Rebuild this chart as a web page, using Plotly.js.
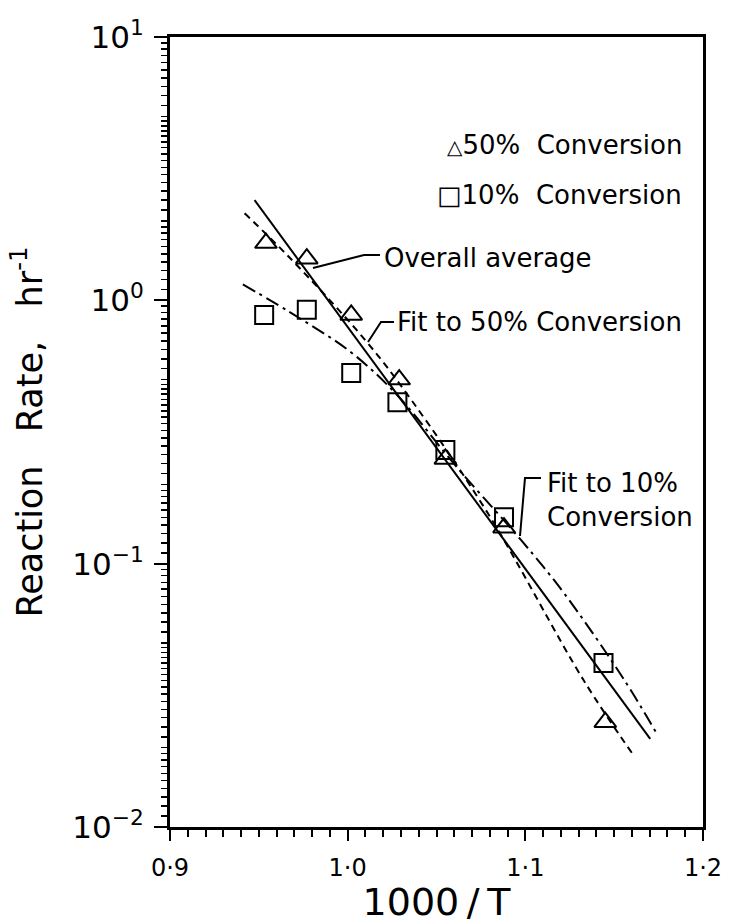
<!DOCTYPE html>
<html>
<head>
<meta charset="utf-8">
<script src="https://cdn.plot.ly/plotly-3.0.1.min.js"></script>
<style>
html,body{margin:0;padding:0;background:#fff;}
#chart{width:732px;height:924px;}
</style>
</head>
<body>
<div id="chart"></div>
<script>
// ---- data ----
const x50 = [0.954, 0.977, 1.002, 1.029, 1.055, 1.088, 1.145];
const y50 = [1.65, 1.44, 0.88, 0.50, 0.25, 0.137, 0.025];
const x10 = [0.953, 0.977, 1.002, 1.028, 1.055, 1.088, 1.144];
const y10 = [0.88, 0.92, 0.53, 0.41, 0.27, 0.15, 0.042];

const xAvg = [0.9476, 1.1703];
const yAvg = [2.40, 0.0216];

const xFit50 = [0.942, 0.967, 1.010, 1.036, 1.079, 1.133, 1.160];
const yFit50 = [2.14, 1.46, 0.705, 0.417, 0.155, 0.0359, 0.0191];

const xFit10 = [0.941, 0.973, 1.002, 1.027, 1.062, 1.098, 1.122, 1.156, 1.174];
const yFit10 = [1.15, 0.855, 0.634, 0.443, 0.230, 0.122, 0.0769, 0.0359, 0.0226];

const xTickVals = [0.9, 1.0, 1.1, 1.2];
const xTickText = ['0·9', '1·0', '1·1', '1·2'];
const yTickVals = [0.01, 0.1, 1, 10];
const yTickText = ['10<sup>−2</sup>', '10<sup>−1</sup>', '10<sup>0</sup>', '10<sup>1</sup>'];

// ---- minor tick set (log paper) ----
const yMinorVals = [];
[0.01, 0.1, 1].forEach(d => {
  for (let m = 1.1; m < 2 - 1e-9; m += 0.1) yMinorVals.push(+(m * d).toPrecision(6));
  for (let m = 2; m < 5 - 1e-9; m += 0.2) yMinorVals.push(+(m * d).toPrecision(6));
  for (let m = 5; m < 10 - 1e-9; m += 0.5) yMinorVals.push(+(m * d).toPrecision(6));
});

const FONT = 'DejaVu Sans, sans-serif';
const blk = '#000';

const traces = [
  {x: xAvg, y: yAvg, mode: 'lines', line: {color: blk, width: 2}, name: 'Overall average', showlegend: false},
  {x: xFit50, y: yFit50, mode: 'lines', line: {color: blk, width: 2, dash: '7px,5px', shape: 'spline'}, name: 'Fit to 50% Conversion', showlegend: false},
  {x: xFit10, y: yFit10, mode: 'lines', line: {color: blk, width: 2, dash: '14px,5px,3px,5px', shape: 'spline'}, name: 'Fit to 10% Conversion', showlegend: false},
  {x: x50, y: y50, mode: 'markers', marker: {symbol: 'triangle-up-open', size: 19, color: blk, line: {width: 2, color: blk}}, name: '50% Conversion', showlegend: false},
  {x: x10, y: y10, mode: 'markers', marker: {symbol: 'square-open', size: 18, color: blk, line: {width: 2, color: blk}}, name: '10% Conversion', showlegend: false}
];

const L = 170, R = 29, T = 37, B = 97;
const PW = 732 - L - R, PH = 924 - T - B;
const px = v => (v - L) / PW;          // pixel -> paper helpers for labels
const py = v => (924 - B - v) / PH;

const annFont = {family: FONT, size: 26, color: blk};
const annotations = [
  {xref: 'paper', yref: 'paper', x: px(684), y: py(145), xanchor: 'right', yanchor: 'middle', showarrow: false, text: '<span style="font-size:20px">△</span>50%  Conversion', font: annFont},
  {xref: 'paper', yref: 'paper', x: px(684), y: py(195), xanchor: 'right', yanchor: 'middle', showarrow: false, text: '□10%  Conversion', font: annFont},
  {xref: 'paper', yref: 'paper', x: px(382), y: py(258), xanchor: 'left', yanchor: 'middle', showarrow: false, text: 'Overall average', font: annFont},
  {xref: 'paper', yref: 'paper', x: px(684), y: py(322), xanchor: 'right', yanchor: 'middle', showarrow: false, text: 'Fit to 50% Conversion', font: annFont},
  {xref: 'paper', yref: 'paper', x: px(545), y: py(500), xanchor: 'left', yanchor: 'middle', showarrow: false, align: 'left', text: 'Fit to 10%<br>Conversion', font: annFont}
];

const lineStyle = {color: blk, width: 2};
const shapes = [
  {type: 'path', xref: 'paper', yref: 'paper', path: `M ${px(313)} ${py(268)} L ${px(364)} ${py(255)} L ${px(380)} ${py(255)}`, line: lineStyle},
  {type: 'path', xref: 'paper', yref: 'paper', path: `M ${px(394)} ${py(322)} L ${px(381)} ${py(322)} L ${px(368)} ${py(342)}`, line: lineStyle},
  {type: 'path', xref: 'paper', yref: 'paper', path: `M ${px(541)} ${py(478)} L ${px(525)} ${py(478)} L ${px(520)} ${py(536)}`, line: lineStyle}
];

const layout = {
  width: 732, height: 924,
  margin: {l: L, r: R, t: T, b: B},
  paper_bgcolor: '#fff', plot_bgcolor: '#fff',
  font: {family: FONT, color: blk},
  showlegend: false,
  xaxis: {
    range: [0.9, 1.2], tickmode: 'array', tickvals: xTickVals, ticktext: xTickText,
    ticks: 'outside', ticklen: 11, tickwidth: 2, tickcolor: blk,
    minor: {dtick: 0.01, ticks: 'outside', ticklen: 7, tickwidth: 2, tickcolor: blk, showgrid: false},
    showline: true, linewidth: 3, linecolor: blk, mirror: true,
    showgrid: false, zeroline: false,
    tickfont: {family: FONT, size: 24, color: blk}, ticklabelstandoff: 6,
    title: {text: '1000\u2009/\u2009T', font: {family: FONT, size: 38, color: blk}, standoff: 8}
  },
  yaxis: {
    type: 'log', range: [-2, 1], tickmode: 'array', tickvals: yTickVals, ticktext: yTickText,
    ticks: 'outside', ticklen: 13, tickwidth: 2, tickcolor: blk,
    minor: {tickmode: 'array', tickvals: yMinorVals, ticks: 'outside', ticklen: 6, tickwidth: 1.5, tickcolor: blk, showgrid: false},
    showline: true, linewidth: 3, linecolor: blk, mirror: true,
    showgrid: false, zeroline: false,
    tickfont: {family: FONT, size: 31, color: blk}, ticklabelstandoff: 4,
    title: {text: '\u00A0\u00A0\u00A0Reaction   Rate,   hr<sup>-1</sup>', font: {family: FONT, size: 35, color: blk}, standoff: 20}
  },
  annotations: annotations,
  shapes: shapes
};

Plotly.newPlot('chart', traces, layout, {staticPlot: true, displayModeBar: false});
</script>
</body>
</html>
